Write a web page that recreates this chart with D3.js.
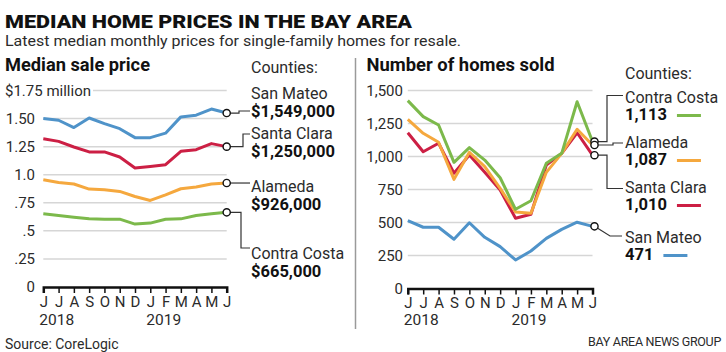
<!DOCTYPE html>
<html>
<head>
<meta charset="utf-8">
<script src="https://cdn.jsdelivr.net/npm/d3@7"></script>
<style>
  html, body { margin: 0; padding: 0; background: #fff; }
  svg { display: block; font-family: Roboto, "Noto Sans", sans-serif; }
</style>
</head>
<body>
<svg id="chart" width="726" height="352"></svg>
<script>
// ---------- DATA ----------
const months = ["J","J","A","S","O","N","D","J","F","M","A","M","J"];
const years = [{label: "2018", idx: 0}, {label: "2019", idx: 7}];

const priceTicks = [0, 0.25, 0.5, 0.75, 1.0, 1.25, 1.5, 1.75];
const priceTickLabels = ["0", ".25", ".5", ".75", "1.0", "1.25", "1.50", "$1.75 million"];
const salesTicks = [0, 250, 500, 750, 1000, 1250, 1500];
const salesTickLabels = ["0", "250", "500", "750", "1,000", "1,250", "1,500"];

// Median sale price, $ millions
const priceSanMateo    = [1.50, 1.485, 1.42, 1.505, 1.455, 1.41, 1.33, 1.33, 1.37, 1.515, 1.53, 1.585, 1.549];
const priceSantaClara  = [1.32, 1.297, 1.247, 1.203, 1.203, 1.158, 1.06, 1.074, 1.089, 1.208, 1.223, 1.277, 1.25];
const priceAlameda     = [0.955, 0.931, 0.917, 0.872, 0.866, 0.851, 0.806, 0.771, 0.821, 0.875, 0.89, 0.917, 0.926];
const priceContraCosta = [0.652, 0.637, 0.622, 0.607, 0.604, 0.604, 0.56, 0.569, 0.604, 0.607, 0.637, 0.652, 0.665];

// Number of homes sold
const salesContraCosta = [1423, 1302, 1239, 956, 1067, 973, 839, 600, 665, 948, 1024, 1415, 1113];
const salesAlameda     = [1282, 1176, 1108, 827, 1032, 923, 759, 580, 570, 880, 1024, 1206, 1087];
const salesSantaClara  = [1180, 1036, 1100, 873, 1011, 880, 746, 532, 562, 936, 1024, 1180, 1010];
const salesSanMateo    = [514, 464, 464, 373, 498, 388, 317, 216, 284, 380, 448, 502, 471];

const colors = {
  "San Mateo": "#4f93c9",
  "Santa Clara": "#cc1f44",
  "Alameda": "#f5a83e",
  "Contra Costa": "#7cb94b"
};

// ---------- SETUP ----------
const svg = d3.select("#chart");
const textColor = "#2b2b2b";

svg.append("text").attr("x", 5).attr("y", 27.5)
  .attr("font-size", 19).attr("font-weight", 900).attr("fill", "#111")
  .attr("textLength", 407).attr("lengthAdjust", "spacingAndGlyphs")
  .text("MEDIAN HOME PRICES IN THE BAY AREA");
svg.append("text").attr("x", 5).attr("y", 45.5)
  .attr("font-size", 15).attr("fill", textColor)
  .attr("textLength", 456).attr("lengthAdjust", "spacingAndGlyphs")
  .text("Latest median monthly prices for single-family homes for resale.");

svg.append("line").attr("x1", 355.5).attr("x2", 355.5).attr("y1", 58).attr("y2", 329)
  .attr("stroke", "#9a9a9a").attr("stroke-width", 1.5);

svg.append("text").attr("x", 5).attr("y", 349)
  .attr("font-size", 14).attr("fill", textColor).text("Source: CoreLogic");
svg.append("text").attr("x", 721).attr("y", 346).attr("text-anchor", "end")
  .attr("font-size", 12.5).attr("letter-spacing", -0.3).attr("fill", textColor).text("BAY AREA NEWS GROUP");

function panel(opts) {
  const g = svg.append("g");
  const x = d3.scaleLinear().domain([0, months.length - 1]).range(opts.xRange);
  const y = d3.scaleLinear().domain(opts.yDomain).range(opts.yRange);

  g.append("text").attr("x", opts.titleX).attr("y", 71)
    .attr("font-size", 17.5).attr("font-weight", 700).attr("fill", "#111")
    .attr("textLength", opts.titleLen).attr("lengthAdjust", "spacingAndGlyphs")
    .text(opts.title);

  // grid
  opts.ticks.forEach((t, i) => {
    if (t === 0) return;
    const isTop = opts.topLabelStart && i === opts.ticks.length - 1;
    g.append("line")
      .attr("x1", isTop ? opts.topGridStart : opts.xRange[0]).attr("x2", opts.xRange[1])
      .attr("y1", y(t)).attr("y2", y(t))
      .attr("stroke", "#d6d6d6").attr("stroke-width", 1.5);
  });
  // y labels
  opts.ticks.forEach((t, i) => {
    const isTop = opts.topLabelStart && i === opts.ticks.length - 1;
    g.append("text")
      .attr("x", isTop ? 5 : opts.labelRight)
      .attr("y", y(t)).attr("dy", "0.36em")
      .attr("text-anchor", isTop ? "start" : "end")
      .attr("font-size", 15).attr("fill", textColor)
      .text(opts.tickLabels[i]);
  });

  // x axis
  const axis = d3.axisBottom(x).tickValues(d3.range(months.length))
    .tickSize(6).tickPadding(3).tickFormat(i => months[i]);
  const ax = g.append("g").attr("transform", `translate(0,${y(0)})`).call(axis);
  ax.select(".domain").attr("stroke", "#111").attr("stroke-width", 2.5);
  ax.selectAll(".tick line").attr("stroke", "#111").attr("stroke-width", 1.5);
  ax.selectAll(".tick text").attr("font-size", 15).attr("fill", textColor)
    .attr("font-family", "Roboto, sans-serif");
  years.forEach(yr => {
    g.append("text").attr("x", x(yr.idx) - 4).attr("y", 325)
      .attr("font-size", 15.5).attr("fill", textColor).text(yr.label);
  });

  const line = d3.line().x((d, i) => x(i)).y(d => y(d));
  opts.series.forEach(s => {
    g.append("path").datum(s.values)
      .attr("d", line).attr("fill", "none")
      .attr("stroke", colors[s.name]).attr("stroke-width", 3)
      .attr("stroke-linejoin", "round");
  });
  return {g, x, y};
}

// ---------- LEFT: PRICES ----------
const L = panel({
  title: "Median sale price", titleX: 5, titleLen: 145,
  xRange: [43.3, 226.7], yDomain: [0, 1.75], yRange: [287, 90.5],
  ticks: priceTicks, tickLabels: priceTickLabels, labelRight: 35,
  topLabelStart: true, topGridStart: 93,
  series: [
    {name: "San Mateo", values: priceSanMateo},
    {name: "Santa Clara", values: priceSantaClara},
    {name: "Alameda", values: priceAlameda},
    {name: "Contra Costa", values: priceContraCosta}
  ]
});

// ---------- RIGHT: SALES ----------
const R = panel({
  title: "Number of homes sold", titleX: 366.5, titleLen: 188,
  xRange: [407.8, 592.5], yDomain: [0, 1500], yRange: [288.5, 90.5],
  ticks: salesTicks, tickLabels: salesTickLabels, labelRight: 403,
  topLabelStart: false,
  series: [
    {name: "San Mateo", values: salesSanMateo},
    {name: "Santa Clara", values: salesSantaClara},
    {name: "Alameda", values: salesAlameda},
    {name: "Contra Costa", values: salesContraCosta}
  ]
});

// ---------- ANNOTATIONS ----------
const fmtPrice = v => "$" + d3.format(",")(Math.round(v * 1000) * 1000);
const fmtSales = d3.format(",");
const last = months.length - 1;

function connector(g, pts) {
  g.append("path").attr("d", d3.line()(pts)).attr("fill", "none")
    .attr("stroke", "#333").attr("stroke-width", 1.2);
}
function dot(g, cx, cy) {
  g.append("circle").attr("cx", cx).attr("cy", cy).attr("r", 3.6)
    .attr("fill", "#fff").attr("stroke", "#111").attr("stroke-width", 1.4);
}

const nameSize = 16, valueSize = 16.5, lineGap = 18.6;

// Left legend
const lg = svg.append("g");
lg.append("text").attr("x", 251).attr("y", 73).attr("font-size", 16).attr("fill", textColor).text("Counties:");
const leftLab = [
  {name: "San Mateo", v: priceSanMateo[last], nameY: 98.5, midX: 239, tY: 111},
  {name: "Santa Clara", v: priceSantaClara[last], nameY: 138.5, midX: 243, tY: 134},
  {name: "Alameda", v: priceAlameda[last], nameY: 191.5, midX: 243, tY: null},
  {name: "Contra Costa", v: priceContraCosta[last], nameY: 258.5, midX: 241, tY: 248}
];
leftLab.forEach(d => {
  const cx = L.x(last), cy = L.y(d.v);
  const ty = d.tY === null ? cy : d.tY;
  connector(lg, [[cx, cy], [d.midX, cy], [d.midX, ty], [250, ty]]);
  dot(lg, cx, cy);
  lg.append("text").attr("x", 251).attr("y", d.nameY).attr("font-size", nameSize).attr("fill", textColor).text(d.name);
  lg.append("text").attr("x", 251).attr("y", d.nameY + lineGap).attr("font-size", valueSize).attr("font-weight", 700)
    .attr("fill", "#111").text(fmtPrice(d.v));
});

// Right legend
const rg = svg.append("g");
rg.append("text").attr("x", 625).attr("y", 79).attr("font-size", 16).attr("fill", textColor).text("Counties:");
const rightLab = [
  {name: "Contra Costa", v: salesContraCosta[last], nameY: 102.5, pts: (cx, cy) => [[cx, cy], [607, cy], [607, 95.5], [623, 95.5]]},
  {name: "Alameda", v: salesAlameda[last], nameY: 147.5, pts: (cx, cy) => [[cx, cy], [613, cy], [613, 143], [623, 143]]},
  {name: "Santa Clara", v: salesSantaClara[last], nameY: 192.5, pts: (cx, cy) => [[cx, cy], [607, cy], [607, 188.5], [623, 188.5]]},
  {name: "San Mateo", v: salesSanMateo[last], nameY: 242.5, pts: (cx, cy) => [[cx, cy], [610, 236], [622, 236]]}
];
rightLab.forEach(d => {
  const cx = R.x(last) + 2, cy = R.y(d.v);
  connector(rg, d.pts(cx, cy));
  dot(rg, cx, cy);
  rg.append("text").attr("x", 625).attr("y", d.nameY).attr("font-size", nameSize).attr("fill", textColor).text(d.name);
  const vt = rg.append("text").attr("x", 625).attr("y", d.nameY + lineGap - 0.8).attr("font-size", valueSize).attr("font-weight", 700)
    .attr("fill", "#111").text(fmtSales(d.v));
  const w = vt.node().getComputedTextLength();
  rg.append("line").attr("x1", 625 + w + 10).attr("x2", 625 + w + 34)
    .attr("y1", d.nameY + 13).attr("y2", d.nameY + 13)
    .attr("stroke", colors[d.name]).attr("stroke-width", 3);
});
</script>
</body>
</html>
